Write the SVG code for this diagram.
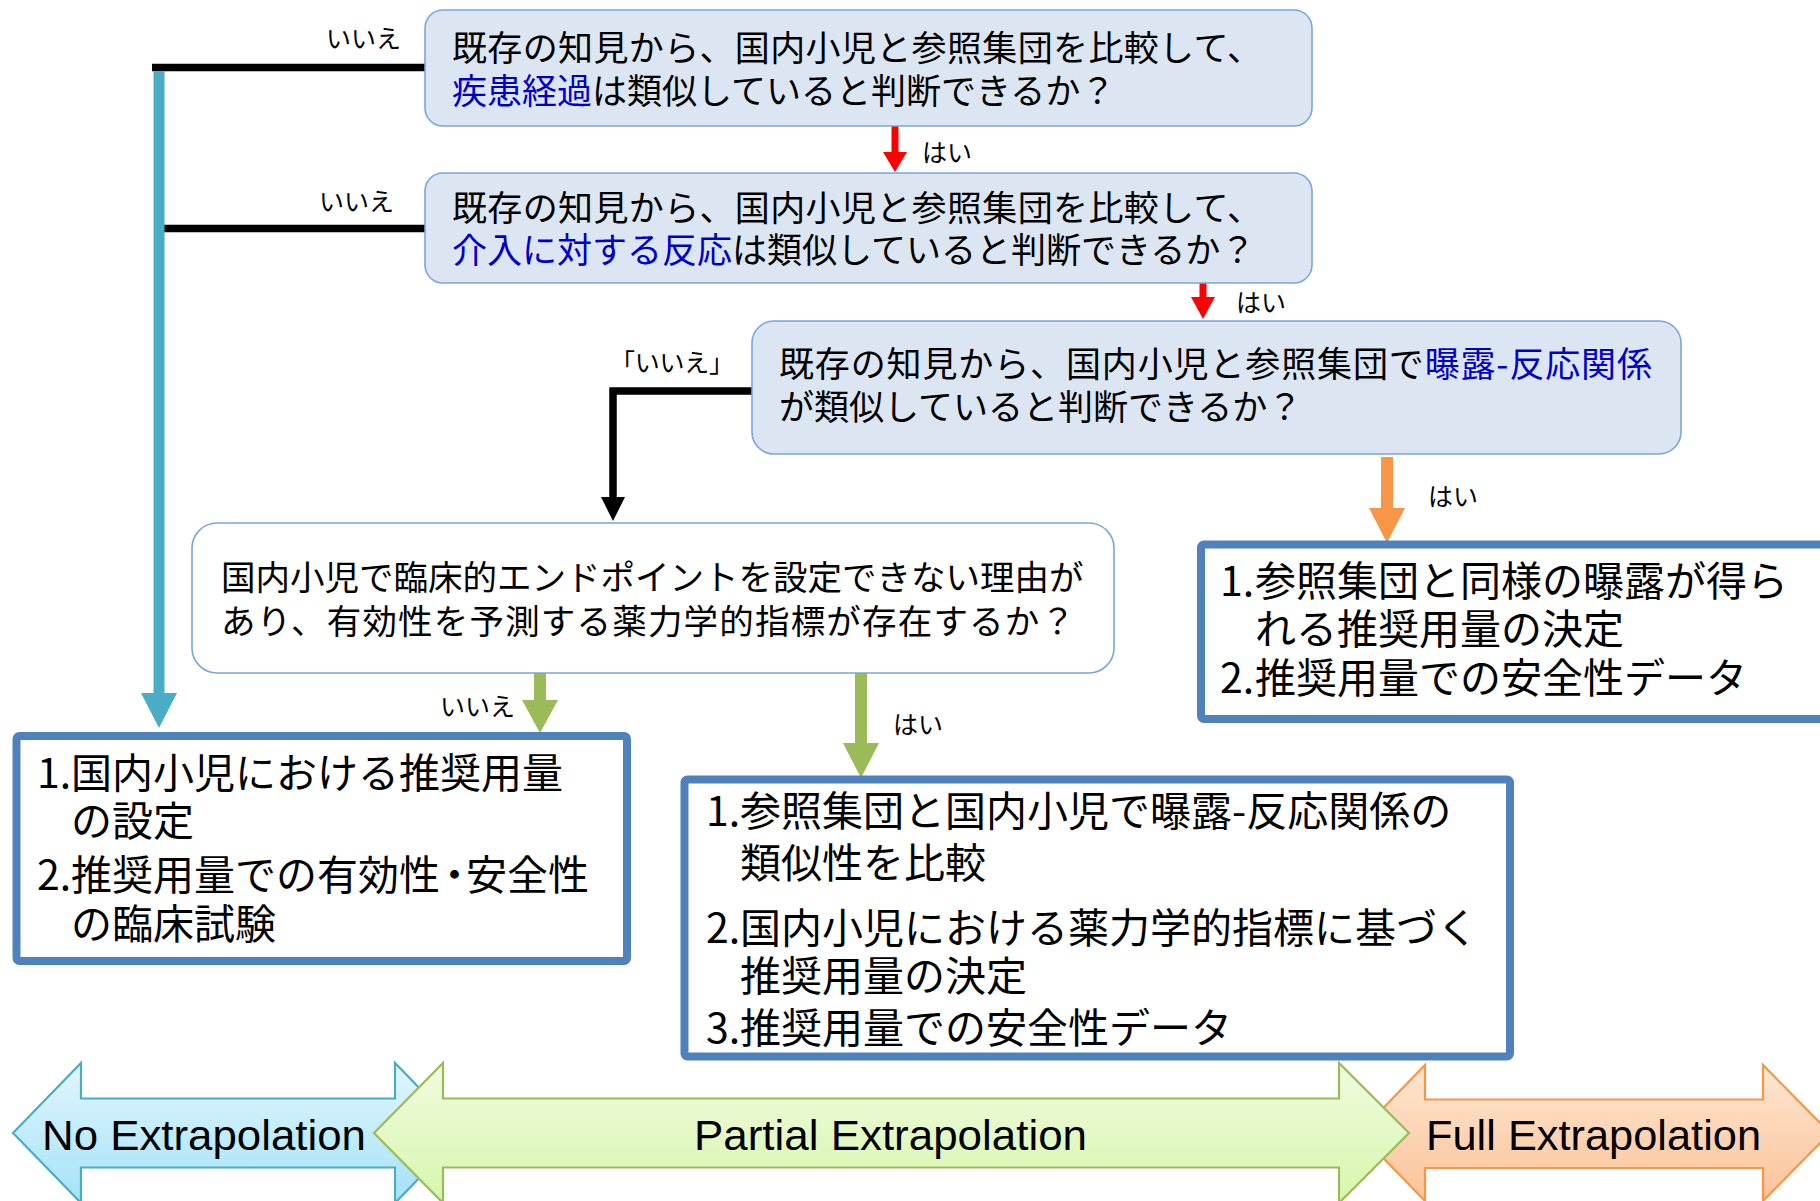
<svg xmlns="http://www.w3.org/2000/svg" width="1820" height="1201" viewBox="0 0 1820 1201">
<defs>
<style>
.q{font-family:"Noto Sans CJK JP","Noto Sans CJK SC",sans-serif;font-size:35px;fill:#000}
.lbl{font-family:"Noto Sans CJK JP","Noto Sans CJK SC",sans-serif;font-size:25px;fill:#000}
.li{font-family:"Noto Sans CJK JP","Noto Sans CJK SC",sans-serif;font-size:41px;fill:#000}
.blue{fill:#0000cc}
.en{font-family:"Liberation Sans",Arial,sans-serif;font-size:42px;fill:#000}
.qbox{fill:#dce6f2;stroke:#7ba6d8;stroke-width:1.6}
.wbox{fill:#ffffff;stroke:#7ba6d8;stroke-width:1.6}
.rbox{fill:#ffffff;stroke:#4f81bd;stroke-width:8}
.blk{fill:none;stroke:#000;stroke-width:7.5}
</style>
<linearGradient id="gc" x1="0" y1="0" x2="0" y2="1"><stop offset="0" stop-color="#e2f6fd"/><stop offset="1" stop-color="#a4e2f7"/></linearGradient>
<linearGradient id="gg" x1="0" y1="0" x2="0" y2="1"><stop offset="0" stop-color="#f1fbe0"/><stop offset="1" stop-color="#d6f6ac"/></linearGradient>
<linearGradient id="go" x1="0" y1="0" x2="0" y2="1"><stop offset="0" stop-color="#fee6d2"/><stop offset="1" stop-color="#fbc398"/></linearGradient>
</defs>
<rect width="1820" height="1201" fill="#ffffff"/>

<g id="connectors">
  <line class="blk" x1="152" y1="67.5" x2="425" y2="67.5"/>
  <line class="blk" x1="162" y1="228.5" x2="425" y2="228.5"/>
  <line x1="159" y1="71" x2="159" y2="694" stroke="#4bacc6" stroke-width="11"/>
  <polygon points="141,693 177,693 159,728" fill="#4bacc6"/>
  <text class="lbl" x="326" y="48">いいえ</text>
  <text class="lbl" x="319" y="211">いいえ</text>
  <line x1="895" y1="126" x2="895" y2="153" stroke="#ff0000" stroke-width="7"/>
  <polygon points="883,152 907,152 895,172" fill="#ff0000"/>
  <text class="lbl" x="922" y="162">はい</text>
  <line x1="1203" y1="283" x2="1203" y2="298" stroke="#ff0000" stroke-width="7"/>
  <polygon points="1191,297 1215,297 1203,319" fill="#ff0000"/>
  <text class="lbl" x="1236" y="312">はい</text>
  <polyline class="blk" points="752,391 613,391 613,498"/>
  <polygon points="601,497 625,497 613,521" fill="#000"/>
  <text class="lbl" x="610" y="372" textLength="124" lengthAdjust="spacing">「いいえ」</text>
  <line x1="1387" y1="457" x2="1387" y2="509" stroke="#f79646" stroke-width="12"/>
  <polygon points="1369,508 1405,508 1387,543" fill="#f79646"/>
  <text class="lbl" x="1428" y="506">はい</text>
  <line x1="540" y1="673" x2="540" y2="701" stroke="#9bbb59" stroke-width="12"/>
  <polygon points="522,700 558,700 540,733" fill="#9bbb59"/>
  <text class="lbl" x="440" y="716">いいえ</text>
  <line x1="861" y1="673" x2="861" y2="744" stroke="#9bbb59" stroke-width="12"/>
  <polygon points="843,743 879,743 861,778" fill="#9bbb59"/>
  <text class="lbl" x="893" y="734">はい</text>
</g>

<g id="q1">
  <rect class="qbox" x="425" y="10" width="887" height="116" rx="18"/>
  <text class="q" x="452" y="61" textLength="810" lengthAdjust="spacing">既存の知見から、国内小児と参照集団を比較して、</text>
  <text class="q" x="452" y="104"><tspan class="blue">疾患経過</tspan>は類似していると判断できるか？</text>
</g>

<g id="q2">
  <rect class="qbox" x="425" y="173" width="887" height="110" rx="18"/>
  <text class="q" x="452" y="221" textLength="810" lengthAdjust="spacing">既存の知見から、国内小児と参照集団を比較して、</text>
  <text class="q" x="452" y="263"><tspan class="blue">介入に対する反応</tspan>は類似していると判断できるか？</text>
</g>

<g id="q3">
  <rect class="qbox" x="752" y="321" width="929" height="133" rx="22"/>
  <text class="q" x="779" y="377" textLength="873" lengthAdjust="spacing">既存の知見から、国内小児と参照集団で<tspan class="blue">曝露-反応関係</tspan></text>
  <text class="q" x="779" y="420">が類似していると判断できるか？</text>
</g>

<g id="q4">
  <rect class="wbox" x="192" y="523" width="922" height="150" rx="25"/>
  <text class="q" x="221" y="590" style="font-size:34.5px">国内小児で臨床的エンドポイントを設定できない理由が</text>
  <text class="q" x="221" y="634" style="font-size:34.5px" textLength="854" lengthAdjust="spacing">あり、有効性を予測する薬力学的指標が存在するか？</text>
</g>

<g id="full-result">
  <rect class="rbox" x="1201" y="544.5" width="630" height="174.5" rx="3"/>
  <text class="li" y="596"><tspan x="1220">1.</tspan><tspan x="1255">参照集団と同様の曝露が得ら</tspan></text>
  <text class="li" x="1255" y="644">れる推奨用量の決定</text>
  <text class="li" y="693"><tspan x="1220">2.</tspan><tspan x="1255">推奨用量での安全性データ</tspan></text>
</g>

<g id="no-result">
  <rect class="rbox" x="16.5" y="736" width="610.5" height="225" rx="3"/>
  <text class="li" y="788"><tspan x="37">1.</tspan><tspan x="71">国内小児における推奨用量</tspan></text>
  <text class="li" x="71" y="836">の設定</text>
  <text class="li" y="890"><tspan x="37">2.</tspan><tspan x="71">推奨用量での有効性</tspan><tspan dx="-6">・</tspan><tspan dx="-9">安全性</tspan></text>
  <text class="li" x="71" y="939">の臨床試験</text>
</g>

<g id="partial-result">
  <rect class="rbox" x="684.5" y="779.5" width="825.5" height="277" rx="3"/>
  <text class="li" y="826"><tspan x="706">1.</tspan><tspan x="740">参照集団と国内小児で曝露-反応関係の</tspan></text>
  <text class="li" x="740" y="878">類似性を比較</text>
  <text class="li" y="943"><tspan x="706">2.</tspan><tspan x="740">国内小児における薬力学的指標に基づく</tspan></text>
  <text class="li" x="740" y="991">推奨用量の決定</text>
  <text class="li" y="1043"><tspan x="706">3.</tspan><tspan x="740">推奨用量での安全性データ</tspan></text>
</g>

<g id="no-extrapolation">
  <polygon points="13,1133 81,1063 81,1098.5 395,1098.5 395,1063 463,1133 395,1203 395,1167.5 81,1167.5 81,1203" fill="url(#gc)" stroke="#4bacc6" stroke-width="2.2"/>
  <text class="en" x="42" y="1150" textLength="324" lengthAdjust="spacingAndGlyphs">No Extrapolation</text>
</g>

<g id="full-extrapolation">
  <polygon points="1359,1133 1425,1065 1425,1099.5 1763,1099.5 1763,1065 1830,1133 1763,1201 1763,1168 1425,1168 1425,1201" fill="url(#go)" stroke="#f79646" stroke-width="2.2"/>
  <text class="en" x="1426" y="1150" textLength="335" lengthAdjust="spacingAndGlyphs">Full Extrapolation</text>
</g>

<g id="partial-extrapolation">
  <polygon points="374,1133 443,1063 443,1098.5 1339,1098.5 1339,1063 1409,1133 1339,1203 1339,1167.5 443,1167.5 443,1203" fill="url(#gg)" stroke="#9bbb59" stroke-width="2.2"/>
  <text class="en" x="694" y="1150" textLength="393" lengthAdjust="spacingAndGlyphs">Partial Extrapolation</text>
</g>
</svg>
